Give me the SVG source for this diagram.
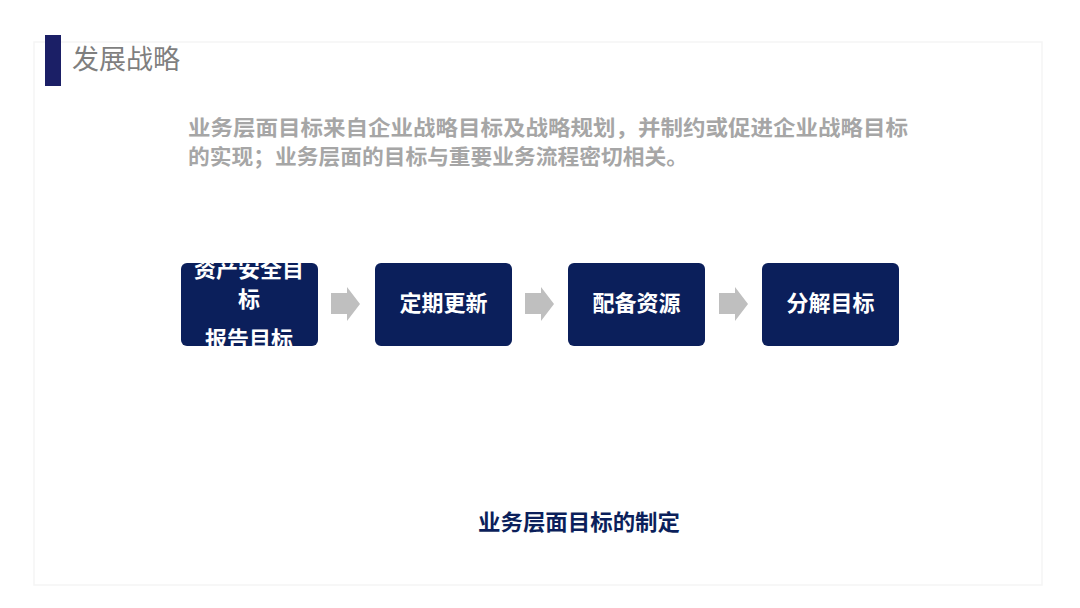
<svg xmlns="http://www.w3.org/2000/svg" width="1080" height="608" viewBox="0 0 1080 608">
  <style>
    .cjk { font-family: "Noto Sans CJK SC", "Noto Sans", sans-serif; }
    .box { fill: #0b1f5b; }
    .boxtxt { fill: #ffffff; font-size: 22px; font-weight: bold; text-anchor: middle; }
    .body { fill: #a6a6a6; font-size: 21px; font-weight: bold; }
    .arrow { fill: #bfbfbf; }
  </style>
  <defs>
    <clipPath id="clip1">
      <rect x="181" y="263" width="137" height="83" rx="6"/>
    </clipPath>
  </defs>
  <rect x="0" y="0" width="1080" height="608" fill="#ffffff"/>
  <rect x="34" y="42" width="1008" height="543" fill="none" stroke="#f5f5f5" stroke-width="1.5"/>

  <g id="title">
    <rect x="45" y="35" width="16" height="51" fill="#1b1f66"/>
    <text class="cjk" x="72" y="69" font-size="27" fill="#7f7f7f">发展战略</text>
  </g>

  <g id="intro">
    <text class="cjk body" x="188" y="135" textLength="720" lengthAdjust="spacingAndGlyphs">业务层面目标来自企业战略目标及战略规划，并制约或促进企业战略目标</text>
    <text class="cjk body" x="188" y="164" textLength="500" lengthAdjust="spacingAndGlyphs">的实现；业务层面的目标与重要业务流程密切相关。</text>
  </g>

  <g id="node1">
    <rect class="box" x="181" y="263" width="137" height="83" rx="6"/>
    <g clip-path="url(#clip1)">
      <text class="cjk boxtxt" x="249" y="277" font-size="21">资产安全目</text>
      <text class="cjk boxtxt" x="249" y="307" font-size="21">标</text>
      <text class="cjk boxtxt" x="249" y="347" font-size="21">报告目标</text>
    </g>
  </g>
  <g id="node2">
    <rect class="box" x="375" y="263" width="137" height="83" rx="6"/>
    <text class="cjk boxtxt" x="443.5" y="311">定期更新</text>
  </g>
  <g id="node3">
    <rect class="box" x="568" y="263" width="137" height="83" rx="6"/>
    <text class="cjk boxtxt" x="636.5" y="311">配备资源</text>
  </g>
  <g id="node4">
    <rect class="box" x="762" y="263" width="137" height="83" rx="6"/>
    <text class="cjk boxtxt" x="830.5" y="311">分解目标</text>
  </g>

  <g id="connectors">
    <polygon class="arrow" points="331,293 347,293 347,287 360,304 347,321 347,314 331,314"/>
    <polygon class="arrow" points="525,293 541,293 541,287 554,304 541,321 541,314 525,314"/>
    <polygon class="arrow" points="719,293 735,293 735,287 748,304 735,321 735,314 719,314"/>
  </g>

  <g id="caption">
    <text class="cjk" x="579" y="530" font-size="22" font-weight="bold" fill="#0b1f5b" text-anchor="middle" textLength="202" lengthAdjust="spacingAndGlyphs">业务层面目标的制定</text>
  </g>
</svg>
